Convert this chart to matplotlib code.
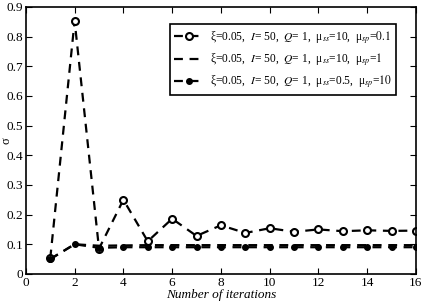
import matplotlib
matplotlib.use('Agg')
import matplotlib.pyplot as plt
import numpy as np

plt.rcParams['font.family'] = ['Liberation Serif', 'DejaVu Serif']
plt.rcParams['mathtext.fontset'] = 'stix'

iters = np.arange(1, 17)
sig_a = [0.052, 0.853, 0.085, 0.25, 0.11, 0.186, 0.128, 0.164, 0.138, 0.154,
         0.142, 0.150, 0.144, 0.147, 0.145, 0.146]
sig_b = [0.05, 0.10, 0.095, 0.096, 0.097, 0.097, 0.097, 0.097, 0.097, 0.097,
         0.097, 0.097, 0.097, 0.097, 0.097, 0.097]
sig_c = [0.05, 0.10, 0.088, 0.09, 0.09, 0.09, 0.09, 0.09, 0.09, 0.09,
         0.09, 0.09, 0.09, 0.09, 0.09, 0.09]
labels = [u'ξ=0.05,  $I$= 50,  $Q$= 1,  μ$_{ss}$=10,  μ$_{sp}$=$\\mathit{0.1}$',
          u'ξ=0.05,  $I$= 50,  $Q$= 1,  μ$_{ss}$=10,  μ$_{sp}$=$\\mathit{1}$',
          u'ξ=0.05,  $I$= 50,  $Q$= 1,  μ$_{ss}$=0.5,  μ$_{sp}$=$\\mathit{10}$']

fig = plt.figure(figsize=(4.24, 3.04), dpi=100)
ax = fig.add_axes([0.061, 0.099, 0.92, 0.878])

ax.plot(iters, sig_a, 'k--', lw=1.6, dashes=(4, 3), marker='o', ms=5, mfc='w', mew=1.5, label=labels[0])
ax.plot(iters, sig_b, 'k--', lw=1.6, dashes=(4, 3), label=labels[1])
ax.plot(iters, sig_c, 'k--', lw=1.6, dashes=(4, 3), marker='o', ms=4, mfc='k', label=labels[2])

ax.set_xlim(0, 16)
ax.set_ylim(0, 0.9)
ax.set_xticks(np.arange(0, 17, 2))
ax.set_yticks(np.arange(0, 0.91, 0.1))
ax.set_yticklabels(['0'] + ['%.1f' % v for v in np.arange(0.1, 0.91, 0.1)])
ax.tick_params(direction='in', top=True, right=True, labelsize=9.5, length=4, pad=2)
for s in ax.spines.values():
    s.set_linewidth(1.2)

ax.set_xlabel('Number of iterations', fontsize=9.5, style='italic', labelpad=0)
ax.set_ylabel(u'σ', fontsize=9, labelpad=0)
ax.yaxis.set_label_coords(-0.035, 0.5)

leg = ax.legend(loc='upper right', bbox_to_anchor=(0.95, 0.935), fontsize=8.3,
                fancybox=False, edgecolor='k', framealpha=1, handlelength=2.6,
                borderpad=0.4, labelspacing=0.45, handletextpad=0.5, borderaxespad=0)
leg.get_frame().set_linewidth(1.2)

fig.savefig('out.png', dpi=100, facecolor='w')
